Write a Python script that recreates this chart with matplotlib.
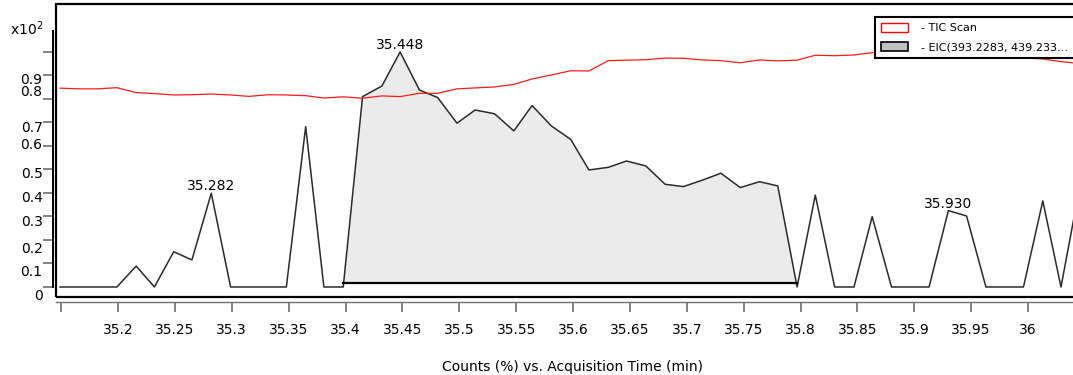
import numpy as np
import matplotlib
matplotlib.use("Agg")
import matplotlib.pyplot as plt
from matplotlib.patches import Patch, Rectangle
from matplotlib.ticker import FixedLocator, FixedFormatter, NullFormatter

# acquisition times (min), one scan per ~1 s
times = [35.149, 35.166, 35.182, 35.199, 35.216, 35.232, 35.249, 35.265,
         35.282, 35.299, 35.315, 35.332, 35.348, 35.365, 35.381, 35.398,
         35.415, 35.432, 35.448, 35.465, 35.481, 35.498, 35.514, 35.531,
         35.548, 35.564, 35.581, 35.598, 35.614, 35.631, 35.647, 35.664,
         35.681, 35.697, 35.714, 35.730, 35.747, 35.764, 35.780, 35.797,
         35.813, 35.830, 35.847, 35.863, 35.880, 35.896, 35.913, 35.930,
         35.946, 35.963, 35.979, 35.996, 36.013, 36.029, 36.046]

# counts (x10^2 %)
tic = [0.846, 0.843, 0.843, 0.848, 0.827, 0.823, 0.817, 0.818,
       0.821, 0.817, 0.811, 0.818, 0.817, 0.814, 0.804, 0.809,
       0.803, 0.813, 0.810, 0.824, 0.824, 0.843, 0.847, 0.851,
       0.862, 0.885, 0.902, 0.920, 0.919, 0.963, 0.965, 0.967,
       0.974, 0.973, 0.966, 0.963, 0.954, 0.966, 0.962, 0.965,
       0.986, 0.984, 0.987, 0.997, 1.000, 0.998, 0.995, 0.990,
       0.985, 0.980, 0.985, 0.975, 0.970, 0.959, 0.950]

eic = [0.0, 0.0, 0.0, 0.0, 0.089, 0.0, 0.150, 0.115,
       0.399, 0.0, 0.0, 0.0, 0.0, 0.682, 0.0, 0.0,
       0.810, 0.855, 1.000, 0.838, 0.806, 0.697, 0.753, 0.737,
       0.664, 0.772, 0.685, 0.628, 0.498, 0.509, 0.536, 0.515,
       0.437, 0.427, 0.455, 0.484, 0.423, 0.448, 0.430, 0.0,
       0.391, 0.0, 0.0, 0.299, 0.0, 0.0, 0.0, 0.325,
       0.302, 0.0, 0.0, 0.0, 0.366, 0.0, 0.44]

# integrated peak: start/end time and baseline level
peak_start = 35.398
peak_end = 35.797
peak_base = 0.017

# labelled apexes
apex_times = [35.282, 35.448, 35.930]

x_ticks = [35.15, 35.2, 35.25, 35.3, 35.35, 35.4, 35.45, 35.5, 35.55,
           35.6, 35.65, 35.7, 35.75, 35.8, 35.85, 35.9, 35.95, 36.0]
x_ticklabels = ["", "35.2", "35.25", "35.3", "35.35", "35.4", "35.45", "35.5",
                "35.55", "35.6", "35.65", "35.7", "35.75", "35.8", "35.85",
                "35.9", "35.95", "36"]
y_ticks = [0.0, 0.1, 0.2, 0.3, 0.4, 0.5, 0.6, 0.7, 0.8, 0.9, 1.0]
y_label_pos = [-0.034, 0.069, 0.169, 0.285, 0.387, 0.488, 0.609, 0.682, 0.835, 0.886]
y_ticklabels = ["0", "0.1", "0.2", "0.3", "0.4", "0.5", "0.6", "0.7", "0.8", "0.9"]

plt.rcParams['font.family'] = ['DejaVu Sans']

t = np.array(times)
e = np.array(eic)

W, H = 1073, 375
fig = plt.figure(figsize=(W / 100, H / 100), dpi=100)
ax = fig.add_axes([56 / W, (H - 297) / H, (1080 - 56) / W, (297 - 4) / H])
ax.set_xlim(35.1455, 36.0457)
ax.set_ylim(-0.0426, 1.204)

# integrated area
sel = (t >= peak_start) & (t <= peak_end)
ax.fill_between(t[sel], e[sel], peak_base, color="#ebebeb", lw=0, zorder=1)
ax.plot([peak_start, peak_end], [peak_base, peak_base], color="black", lw=1.6, zorder=3)

ax.plot(t, e, color="#2a2a2a", lw=1.1, zorder=2)
ax.plot(t, tic, color="#ff1a1a", lw=0.9, zorder=4)

for at in apex_times:
    i = times.index(at)
    ax.annotate(f"{at:.3f}", xy=(at, eic[i]), xytext=(0, 0), textcoords="offset points",
                ha="center", va="bottom", fontsize=10)

# outer frame
ax.add_patch(Rectangle((0, 0), 1, 1, transform=ax.transAxes, fill=False,
                       ec="black", lw=1.6, clip_on=False, zorder=6))

ax.spines["top"].set_visible(False)
ax.spines["right"].set_visible(False)
ax.spines["left"].set_position(("outward", 2.2))
ax.spines["left"].set_bounds(0, 1.089)
ax.spines["left"].set_linewidth(1.4)
ax.spines["bottom"].set_position(("outward", 3.8))
ax.spines["bottom"].set_linewidth(1.0)
ax.spines["bottom"].set_color("#707070")

ax.set_xticks(x_ticks)
ax.set_xticklabels(x_ticklabels)
ax.tick_params(axis="x", direction="out", length=7.2, width=1.1, color="#606060",
               pad=8, labelsize=10)

ax.yaxis.set_major_locator(FixedLocator(y_ticks))
ax.yaxis.set_major_formatter(NullFormatter())
ax.yaxis.set_minor_locator(FixedLocator(y_label_pos))
ax.yaxis.set_minor_formatter(FixedFormatter(y_ticklabels))
ax.tick_params(axis="y", which="major", direction="out", length=7.2, width=1.1,
               color="#606060")
ax.tick_params(axis="y", which="minor", length=0, pad=7.5, labelsize=10)

fig.text(10 / W, 1 - 29 / H, r"x10$^{2}$", fontsize=10, ha="left", va="center")

handles = [Patch(facecolor="white", edgecolor="red", lw=1),
           Patch(facecolor="#c0c0c0", edgecolor="black", lw=1.2)]
labels = ["- TIC Scan", "- EIC(393.2283, 439.233\u2026"]
leg = ax.legend(handles, labels, loc="upper left", mode="expand",
                bbox_to_anchor=(875 / W, 1 - 60.5 / H, 260 / W, 44 / H),
                bbox_transform=fig.transFigure, borderaxespad=0,
                fontsize=8, fancybox=False, framealpha=1, edgecolor="black",
                handlelength=2.4, handleheight=0.95, handletextpad=1.2,
                labelspacing=0.75, borderpad=0.55)
leg.get_frame().set_linewidth(1.5)
leg.set_zorder(7)

fig.text(572 / W, 1 - 367 / H, "Counts (%) vs. Acquisition Time (min)",
         fontsize=10, ha="center", va="center")

fig.savefig("out.png", dpi=100)
